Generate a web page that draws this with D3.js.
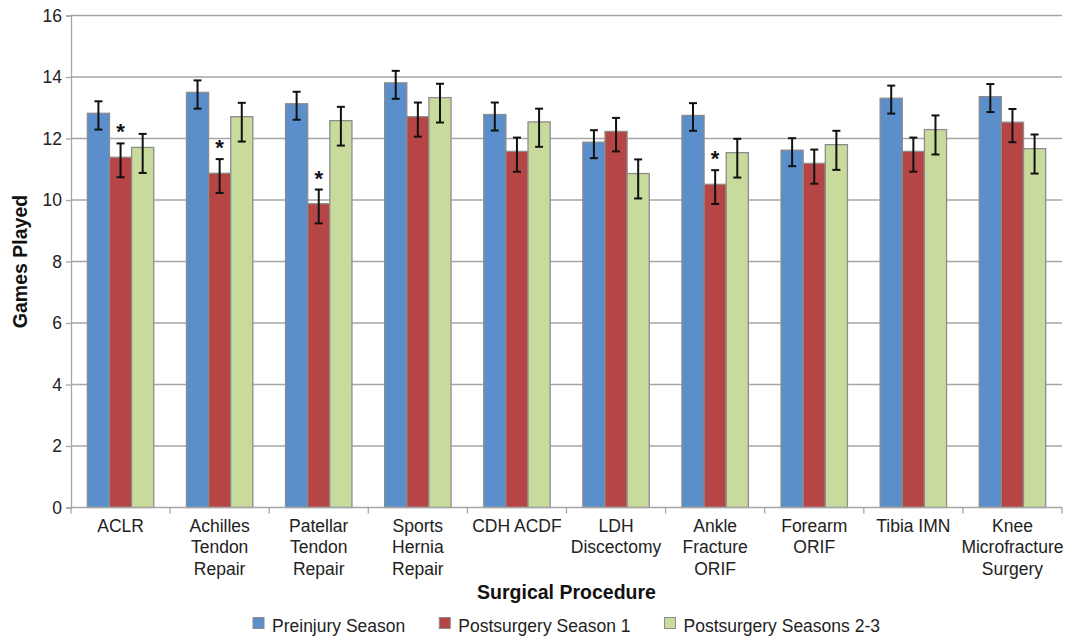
<!DOCTYPE html>
<html>
<head>
<meta charset="utf-8">
<script src="https://cdn.jsdelivr.net/npm/d3@7"></script>
<style>
  body { margin: 0; background: #fff; }
  svg { font-family: "Liberation Sans", Arial, sans-serif; }
</style>
</head>
<body>
<svg width="1070" height="636"></svg>
<script>
// procedures, each label split into its lines
const categories = [
  ["ACLR"],
  ["Achilles", "Tendon", "Repair"],
  ["Patellar", "Tendon", "Repair"],
  ["Sports", "Hernia", "Repair"],
  ["CDH ACDF"],
  ["LDH", "Discectomy"],
  ["Ankle", "Fracture", "ORIF"],
  ["Forearm", "ORIF"],
  ["Tibia IMN"],
  ["Knee", "Microfracture", "Surgery"]
]
const seriesNames = ["Preinjury Season", "Postsurgery Season 1", "Postsurgery Seasons 2-3"]
const seriesColors = ["#5B8FCB", "#B64645", "#C9DB9C"]

const preinjury   = [12.82, 13.50, 13.13, 13.81, 12.78, 11.88, 12.75, 11.62, 13.31, 13.36]
const post1       = [11.39, 10.87,  9.88, 12.71, 11.58, 12.23, 10.51, 11.19, 11.58, 12.53]
const post23      = [11.71, 12.71, 12.58, 13.33, 12.54, 10.86, 11.54, 11.80, 12.29, 11.67]

// whisker ends (upper / lower)
const preHi  = [13.21, 13.89, 13.52, 14.20, 13.17, 12.27, 13.15, 12.01, 13.72, 13.77]
const preLo  = [12.29, 12.97, 12.61, 13.29, 12.26, 11.36, 12.25, 11.10, 12.81, 12.86]
const p1Hi   = [11.84, 11.33, 10.34, 13.17, 12.03, 12.67, 10.97, 11.64, 12.03, 12.96]
const p1Lo   = [10.74, 10.23,  9.24, 12.06, 10.92, 11.58,  9.87, 10.53, 10.92, 11.88]
const p23Hi  = [12.15, 13.16, 13.03, 13.78, 12.97, 11.32, 11.99, 12.25, 12.75, 12.13]
const p23Lo  = [10.88, 11.90, 11.77, 12.52, 11.73, 10.05, 10.73, 10.98, 11.48, 10.86]

// significant difference marks on postsurgery season 1
const significant = [true, true, true, false, false, false, true, false, false, false]

const yTicks = [0, 2, 4, 6, 8, 10, 12, 14, 16]

const margin = {left: 71, right: 8, top: 15.5, bottom: 128.5}
const width = 1070
const height = 636
const gridColor = "#A6A6A6"
const labelSize = "17.5px"

const svg = d3.select("svg")

const x = d3.scaleBand()
  .domain(d3.range(categories.length))
  .range([margin.left, width - margin.right])

const inner = d3.scaleBand()
  .domain(d3.range(seriesNames.length))
  .range([x.bandwidth() * 0.165, x.bandwidth() * 0.835])

const y = d3.scaleLinear()
  .domain([0, 16])
  .range([height - margin.bottom, margin.top])

// gridlines
svg.append("g")
  .selectAll("line")
  .data(yTicks.filter(d => d > 0))
  .join("line")
  .attr("x1", margin.left).attr("x2", width - margin.right)
  .attr("y1", d => y(d)).attr("y2", d => y(d))
  .attr("stroke", gridColor).attr("stroke-width", 1.3)

// y axis
const yAxis = svg.append("g")
  .attr("transform", "translate(" + margin.left + ",0)")
  .call(d3.axisLeft(y).tickValues(yTicks).tickSize(5).tickPadding(4))
yAxis.select(".domain").attr("stroke", gridColor).attr("stroke-width", 1.3)
yAxis.selectAll(".tick line").attr("stroke", gridColor).attr("stroke-width", 1.3)
yAxis.selectAll(".tick text")
  .style("font-size", labelSize).attr("fill", "#222")
  .style("font-family", "'Liberation Sans', Arial, sans-serif")

// bars
const series = [
  {vals: preinjury, hi: preHi, lo: preLo},
  {vals: post1, hi: p1Hi, lo: p1Lo},
  {vals: post23, hi: p23Hi, lo: p23Lo}
]
const rows = []
series.forEach((s, si) => {
  s.vals.forEach((v, ci) => rows.push({ci: ci, si: si, v: v, hi: s.hi[ci], lo: s.lo[ci]}))
})

svg.append("g")
  .selectAll("rect")
  .data(rows)
  .join("rect")
  .attr("x", d => x(d.ci) + inner(d.si))
  .attr("width", inner.bandwidth())
  .attr("y", d => y(d.v))
  .attr("height", d => y(0) - y(d.v))
  .attr("fill", d => seriesColors[d.si])
  .attr("stroke", "#8C8C8C")
  .attr("stroke-width", 1.3)

// x axis
const xAxisY = y(0)
svg.append("line")
  .attr("x1", margin.left).attr("x2", width - margin.right)
  .attr("y1", xAxisY).attr("y2", xAxisY)
  .attr("stroke", gridColor).attr("stroke-width", 1.5)
svg.append("g")
  .selectAll("line")
  .data(d3.range(categories.length + 1))
  .join("line")
  .attr("x1", i => i < categories.length ? x(i) : x(i - 1) + x.bandwidth())
  .attr("x2", i => i < categories.length ? x(i) : x(i - 1) + x.bandwidth())
  .attr("y1", xAxisY).attr("y2", xAxisY + 6)
  .attr("stroke", gridColor).attr("stroke-width", 1.3)

// error bars
const eb = svg.append("g").attr("stroke", "#111").attr("stroke-width", 2)
rows.forEach(d => {
  const cx = x(d.ci) + inner(d.si) + inner.bandwidth() / 2
  eb.append("line").attr("x1", cx).attr("x2", cx).attr("y1", y(d.hi)).attr("y2", y(d.lo))
  eb.append("line").attr("x1", cx - 4).attr("x2", cx + 4).attr("y1", y(d.hi)).attr("y2", y(d.hi))
  eb.append("line").attr("x1", cx - 4).attr("x2", cx + 4).attr("y1", y(d.lo)).attr("y2", y(d.lo))
})

// asterisks
svg.append("g")
  .selectAll("text")
  .data(d3.range(categories.length).filter(i => significant[i]))
  .join("text")
  .attr("x", i => x(i) + inner(1) + inner.bandwidth() / 2)
  .attr("y", i => y(p1Hi[i]) - 4)
  .attr("text-anchor", "middle")
  .style("font-size", "22px").style("font-weight", "bold")
  .attr("fill", "#111")
  .text("*")

// category labels
const catG = svg.append("g")
categories.forEach((lines, i) => {
  const t = catG.append("text")
    .attr("x", x(i) + x.bandwidth() / 2)
    .attr("y", xAxisY + 24)
    .attr("text-anchor", "middle")
    .style("font-size", labelSize).attr("fill", "#222")
  lines.forEach((ln, j) => {
    t.append("tspan").attr("x", x(i) + x.bandwidth() / 2).attr("dy", j === 0 ? 0 : 21.5).text(ln)
  })
})

// axis titles
svg.append("text")
  .attr("transform", "translate(27," + ((y(0) + y(16)) / 2) + ") rotate(-90)")
  .attr("text-anchor", "middle")
  .style("font-size", "19.5px").style("font-weight", "bold").attr("fill", "#111")
  .text("Games Played")

svg.append("text")
  .attr("x", (margin.left + width - margin.right) / 2)
  .attr("y", 599)
  .attr("text-anchor", "middle")
  .style("font-size", "19.5px").style("font-weight", "bold").attr("fill", "#111")
  .text("Surgical Procedure")

// legend
const legend = svg.append("g")
let lx = 0
seriesNames.forEach((name, i) => {
  const g = legend.append("g").attr("transform", "translate(" + lx + ",0)")
  g.append("rect").attr("x", 0).attr("y", 617.5).attr("width", 11).attr("height", 11)
    .attr("fill", seriesColors[i]).attr("stroke", "#8C8C8C").attr("stroke-width", 1)
  const t = g.append("text").attr("x", 19).attr("y", 631.5)
    .style("font-size", labelSize).attr("fill", "#222").text(name)
  lx += 19 + t.node().getComputedTextLength() + 34
})
const legendW = lx - 34
legend.attr("transform", "translate(" + ((margin.left + width - margin.right) / 2 - legendW / 2) + ",0)")
</script>
</body>
</html>
